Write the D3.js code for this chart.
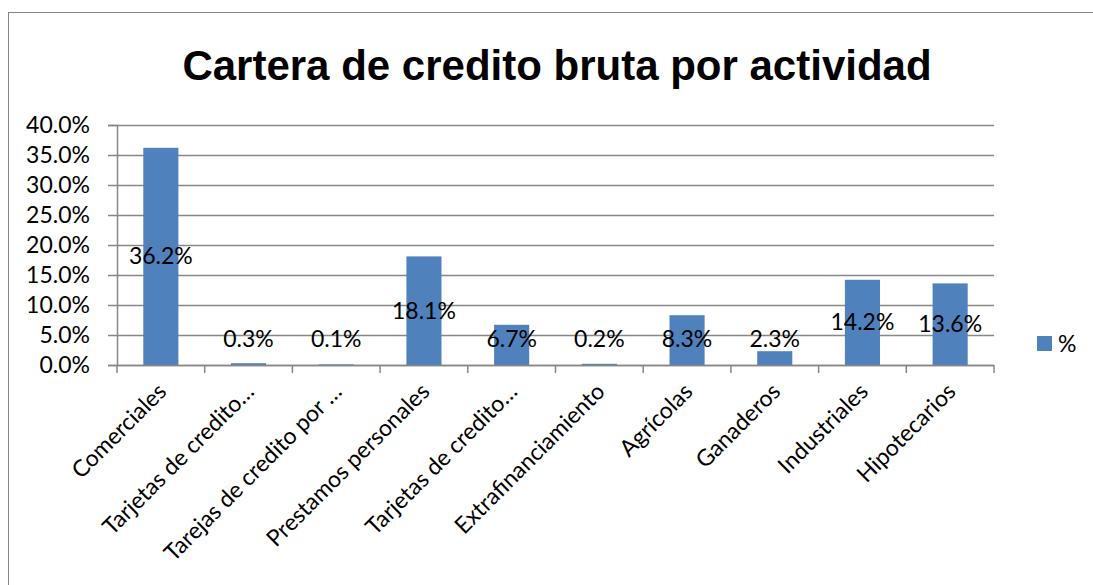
<!DOCTYPE html>
<html>
<head>
<meta charset="utf-8">
<script src="https://cdn.jsdelivr.net/npm/d3@7"></script>
<style>
  body { margin: 0; background: #fff; }
  text { font-family: Lato, "Open Sans", sans-serif; fill: #000; }
</style>
</head>
<body>
<div id="chart"></div>
<script>
// chart values
var categories = ["Comerciales", "Tarjetas de credito…", "Tarejas de credito por …", "Prestamos personales",
	"Tarjetas de credito…", "Extrafinanciamiento", "Agrícolas", "Ganaderos", "Industriales", "Hipotecarios"];
var values = [0.362, 0.003, 0.001, 0.181, 0.067, 0.002, 0.083, 0.023, 0.142, 0.136];
var yTicks = [0, 0.05, 0.10, 0.15, 0.20, 0.25, 0.30, 0.35, 0.40];
var seriesName = "%";
var title = "Cartera de credito bruta por actividad";

var outerwidth = 1093, outerheight = 585;
var margin = {left: 117, right: 99, top: 125, bottom: 220};
var width = outerwidth - margin.left - margin.right;
var height = outerheight - margin.top - margin.bottom;
var barColor = "#4f81bd";
var gridColor = "#878787";
var fontSize = "23px";
var fmt = d3.format(".1%");

var svg = d3.select("#chart")
	.append("svg")
	.attr("width", outerwidth)
	.attr("height", outerheight);

// outer chart border (runs off the right and bottom)
svg.append("rect")
	.attr("x", 8.5).attr("y", 12.5)
	.attr("width", 1200).attr("height", 700)
	.attr("fill", "#fff")
	.attr("stroke", gridColor);

svg.append("text")
	.attr("x", 557).attr("y", 80)
	.attr("text-anchor", "middle")
	.style("font-family", "'Liberation Sans', Arial, sans-serif")
	.style("font-weight", 700)
	.style("font-size", "42px")
	.text(title);

var g = svg.append("g")
	.attr("transform", "translate(" + margin.left + "," + margin.top + ")");

var x = d3.scaleBand()
	.domain(d3.range(categories.length))
	.range([0, width])
	.paddingInner(0.6)
	.paddingOuter(0.3);

var y = d3.scaleLinear()
	.domain([0, 0.4])
	.range([height, 0]);

// gridlines
g.selectAll(".grid")
	.data(yTicks)
	.enter().append("line")
	.attr("x1", -9).attr("x2", width)
	.attr("y1", function(d) { return Math.round(y(d)) + 0.5; })
	.attr("y2", function(d) { return Math.round(y(d)) + 0.5; })
	.attr("stroke", gridColor)
	.attr("stroke-width", 1.5);

// y axis
var yAxis = g.append("g")
	.call(d3.axisLeft(y).tickValues(yTicks).tickFormat(fmt).tickSize(9));
yAxis.select(".domain").attr("stroke", gridColor).attr("stroke-width", 1.5);
yAxis.selectAll(".tick line").attr("stroke", gridColor);
yAxis.selectAll(".tick text")
	.attr("x", -27)
	.style("font-size", fontSize);

// bars
g.selectAll(".bar")
	.data(values)
	.enter().append("rect")
	.attr("class", "bar")
	.attr("x", function(d, i) { return x(i); })
	.attr("width", x.bandwidth())
	.attr("y", function(d) { return y(d); })
	.attr("height", function(d) { return height - y(d); })
	.attr("fill", barColor);

// x axis with ticks at the category boundaries
var bounds = d3.range(categories.length + 1).map(function(i) { return i * width / categories.length; });
g.append("line")
	.attr("x1", 0).attr("x2", width)
	.attr("y1", height + 0.5).attr("y2", height + 0.5)
	.attr("stroke", gridColor).attr("stroke-width", 1.5);
g.selectAll(".xtick")
	.data(bounds)
	.enter().append("line")
	.attr("x1", function(d) { return d; }).attr("x2", function(d) { return d; })
	.attr("y1", height).attr("y2", height + 8)
	.attr("stroke", gridColor).attr("stroke-width", 1.5);

g.selectAll(".xlabel")
	.data(categories)
	.enter().append("text")
	.attr("class", "xlabel")
	.attr("text-anchor", "end")
	.style("font-size", fontSize)
	.attr("transform", function(d, i) {
		var cx = x(i) + x.bandwidth() / 2 + 7;
		return "translate(" + cx + "," + (height + 28) + ") rotate(-45)";
	})
	.text(function(d) { return d; });

// data labels, centred in the bar but kept above the axis
g.selectAll(".dlabel")
	.data(values)
	.enter().append("text")
	.attr("class", "dlabel")
	.attr("text-anchor", "middle")
	.attr("dy", "0.35em")
	.style("font-size", fontSize)
	.attr("x", function(d, i) { return x(i) + x.bandwidth() / 2; })
	.attr("y", function(d) { return Math.min((y(d) + height) / 2, height - 26); })
	.text(function(d) { return fmt(d); });

// legend
var legend = svg.append("g").attr("transform", "translate(1037,336)");
legend.append("rect").attr("width", 15).attr("height", 15).attr("fill", barColor);
legend.append("text").attr("x", 21).attr("y", 8).attr("dy", "0.35em")
	.style("font-size", fontSize).text(seriesName);
</script>
</body>
</html>
